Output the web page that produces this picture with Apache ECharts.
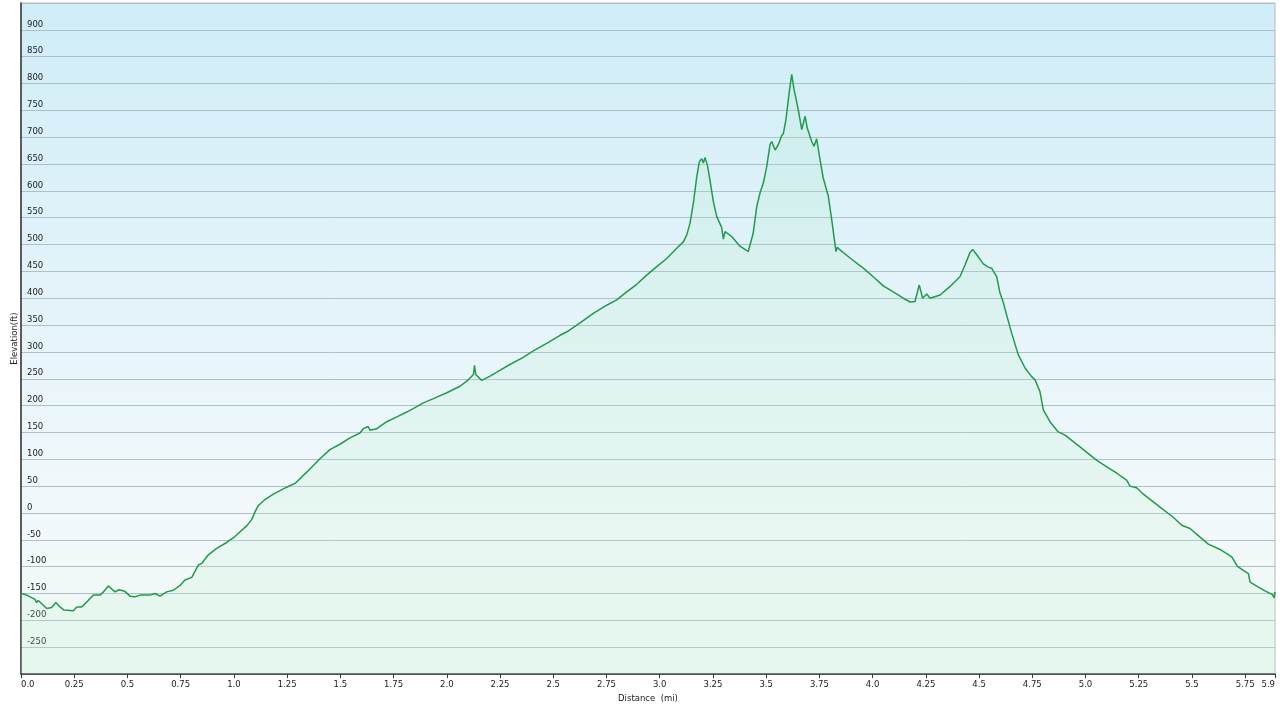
<!DOCTYPE html>
<html>
<head>
<meta charset="utf-8">
<script src="https://cdn.jsdelivr.net/npm/echarts@6/dist/echarts.min.js"></script>
<style>
html,body{margin:0;padding:0;background:#fff;}
#c{width:1280px;height:712px;}
</style>
</head>
<body>
<div id="c"></div>
<script>
const distMi = [0.000,0.027,0.066,0.073,0.081,0.121,0.144,0.164,0.183,0.202,0.246,0.262,0.285,0.309,0.340,0.371,0.385,0.410,0.442,0.460,0.488,0.512,0.535,0.559,0.606,0.629,0.653,0.684,0.715,0.747,0.770,0.802,0.833,0.849,0.880,0.919,0.966,1.005,1.029,1.060,1.084,1.099,1.115,1.146,1.185,1.248,1.287,1.342,1.404,1.451,1.498,1.545,1.592,1.608,1.631,1.639,1.671,1.718,1.765,1.812,1.859,1.890,1.937,2.000,2.062,2.101,2.125,2.130,2.136,2.164,2.203,2.251,2.298,2.359,2.406,2.469,2.532,2.571,2.626,2.688,2.751,2.798,2.845,2.892,2.939,2.986,3.033,3.080,3.111,3.127,3.142,3.158,3.174,3.186,3.197,3.205,3.213,3.224,3.236,3.252,3.268,3.291,3.299,3.307,3.338,3.377,3.416,3.424,3.439,3.456,3.471,3.487,3.503,3.518,3.526,3.542,3.557,3.573,3.581,3.593,3.609,3.620,3.631,3.651,3.667,3.672,3.683,3.693,3.714,3.725,3.737,3.753,3.768,3.792,3.808,3.828,3.834,3.847,3.894,3.956,4.003,4.050,4.097,4.144,4.176,4.199,4.219,4.235,4.254,4.270,4.317,4.364,4.410,4.434,4.457,4.470,4.489,4.520,4.543,4.559,4.583,4.598,4.614,4.630,4.653,4.684,4.716,4.747,4.763,4.786,4.802,4.833,4.872,4.904,4.974,5.053,5.100,5.147,5.193,5.209,5.240,5.272,5.350,5.412,5.452,5.491,5.538,5.577,5.632,5.687,5.713,5.741,5.765,5.773,5.812,5.843,5.878,5.886,5.890];
const elevFt = [-150,-153,-161,-167,-163,-178,-176,-167,-175,-181,-182,-175,-175,-166,-153,-153,-148,-136,-147,-143,-146,-155,-156,-153,-153,-150,-155,-147,-144,-135,-125,-120,-97,-94,-78,-66,-55,-44,-35,-24,-12,2,14,25,35,48,55,76,101,118,128,140,149,157,161,154,157,170,179,188,198,205,213,224,236,248,258,275,258,247,255,266,277,290,302,316,331,339,354,372,387,397,412,426,443,459,474,493,505,518,539,577,626,654,660,652,662,648,620,580,552,532,510,524,515,497,487,485,521,571,596,615,646,686,692,676,686,703,707,733,786,817,789,751,714,711,739,717,692,683,697,658,624,590,546,487,495,490,475,456,440,423,412,400,393,394,425,400,408,400,406,422,440,462,485,491,481,464,458,456,440,410,392,368,335,295,270,254,248,226,192,170,151,145,123,98,86,74,61,50,47,35,11,-8,-23,-29,-45,-58,-68,-82,-99,-107,-113,-129,-138,-145,-152,-158,-147];
const xMin = 0, xMax = 5.89, xStep = 0.25;
const yMin = -300, yMax = 950, yStep = 50;
const xTitle = 'Distance  (mi)';
const yTitle = 'Elevation(ft)';

const seriesData = distMi.map((d, i) => [d, elevFt[i]]);
const font = 'DejaVu Sans, Verdana, sans-serif';

const chart = echarts.init(document.getElementById('c'), null, {renderer: 'canvas'});
chart.setOption({
  animation: false,
  backgroundColor: '#ffffff',
  grid: {
    left: 21, right: 5, top: 3, bottom: 38,
    containLabel: false,
    outerBoundsMode: 'none',
    show: true,
    borderColor: '#b8b8b8',
    borderWidth: 1,
    backgroundColor: {
      type: 'linear', x: 0, y: 0, x2: 0, y2: 1,
      colorStops: [
        {offset: 0, color: '#cfedf8'},
        {offset: 0.4, color: '#e2f3f9'},
        {offset: 0.78, color: '#f3f9fb'},
        {offset: 1, color: '#eff9f4'}
      ]
    }
  },
  xAxis: {
    type: 'value',
    min: xMin, max: xMax, interval: xStep,
    name: xTitle,
    nameLocation: 'middle',
    nameGap: 19,
    nameTextStyle: {fontFamily: font, fontSize: 8.5, color: '#222'},
    axisLine: {show: true, onZero: false, lineStyle: {color: '#333', width: 1.5}},
    axisTick: {show: true, length: 4, lineStyle: {color: '#333'}},
    splitLine: {show: false},
    axisLabel: {
      fontFamily: font, fontSize: 8.5, color: '#222', margin: 6,
      showMinLabel: true, showMaxLabel: true,
      alignMinLabel: 'left', alignMaxLabel: 'right',
      formatter: function (v) {
        if (Math.abs(v - xMax) < 1e-6) return '5.9';
        if (Math.abs(v - Math.round(v)) < 1e-6) return v.toFixed(1);
        return String(+v.toFixed(2));
      }
    }
  },
  yAxis: {
    type: 'value',
    min: yMin, max: yMax, interval: yStep,
    name: yTitle,
    nameLocation: 'middle',
    nameGap: 2,
    nameMoveOverlap: false,
    nameTextStyle: {fontFamily: font, fontSize: 8.5, color: '#222'},
    axisLine: {show: true, lineStyle: {color: '#333', width: 1.5}},
    axisTick: {show: false},
    splitLine: {show: true, lineStyle: {color: '#aebfc8', width: 1}},
    axisLabel: {
      inside: true,
      fontFamily: font, fontSize: 8.5, color: '#222',
      margin: 6,
      verticalAlign: 'bottom',
      padding: [0, 0, 1, 0],
      showMinLabel: false, showMaxLabel: false
    }
  },
  series: [{
    type: 'line',
    data: seriesData,
    showSymbol: false,
    symbol: 'none',
    smooth: false,
    lineStyle: {color: '#239a4a', width: 1.5},
    areaStyle: {
      origin: 'start',
      color: {
        type: 'linear', x: 0, y: 0, x2: 0, y2: 1,
        colorStops: [
          {offset: 0, color: 'rgba(160,230,185,0.22)'},
          {offset: 1, color: 'rgba(195,242,210,0.30)'}
        ]
      }
    }
  }]
});
</script>
</body>
</html>
